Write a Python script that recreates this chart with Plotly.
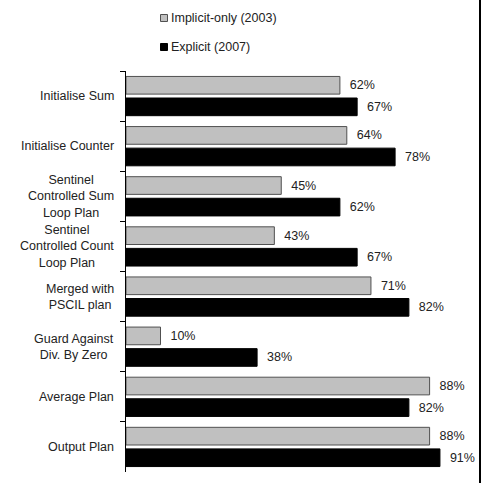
import plotly.graph_objects as go

categories = [
    "Initialise Sum",
    "Initialise Counter",
    "Sentinel<br>Controlled Sum<br>Loop Plan",
    "Sentinel<br>Controlled Count<br>Loop Plan",
    "Merged with<br>PSCIL plan",
    "Guard Against<br>Div. By Zero",
    "Average Plan",
    "Output Plan",
]
implicit_2003 = [62, 64, 45, 43, 71, 10, 88, 88]
explicit_2007 = [67, 78, 62, 67, 82, 38, 82, 91]
series_names = ["Implicit-only (2003)", "Explicit (2007)"]
series_colors = ["#c0c0c0", "#000000"]
series_lines = ["#505050", "#000000"]

W, H = 481, 483
ML, MR, MT, MB = 126, 10, 71, 11
PW, PH = W - ML - MR, H - MT - MB
FONT = "Liberation Sans, Arial, sans-serif"
TXT = "#222222"


def px_x(p):
    return (p - ML) / PW


def px_y(p):
    return (H - MB - p) / PH


fig = go.Figure()
for name, vals, col, lc in zip(series_names, [implicit_2003, explicit_2007], series_colors, series_lines):
    fig.add_trace(go.Bar(
        y=categories, x=vals, orientation="h", name=name,
        marker=dict(color=col, line=dict(color=lc, width=1)),
        text=[f"\u00a0\u00a0{v}%" for v in vals],
        textposition="outside", constraintext="none", cliponaxis=False,
        textfont=dict(family=FONT, size=12.5, color=TXT),
        showlegend=False,
    ))

annotations = []
for c in categories:
    annotations.append(dict(
        x=0, xref="paper", y=c, yref="y", text=c, showarrow=False,
        xanchor="right", yanchor="middle", align="center", xshift=-10,
        font=dict(family=FONT, size=12.5, color=TXT),
    ))

shapes = []
legend_y = [18, 47]
for name, col, lc, ly in zip(series_names, series_colors, series_lines, legend_y):
    shapes.append(dict(
        type="rect", xref="paper", yref="paper",
        x0=px_x(160.5), x1=px_x(167.5), y0=px_y(ly - 3.5), y1=px_y(ly + 3.5),
        fillcolor=col, line=dict(color=lc, width=1),
    ))
    annotations.append(dict(
        x=px_x(169), xref="paper", y=px_y(ly), yref="paper", text=name,
        showarrow=False, xanchor="left", yanchor="middle",
        font=dict(family=FONT, size=12.5, color=TXT),
    ))

# outer frame line on right
shapes.append(dict(
    type="line", xref="paper", yref="paper",
    x0=px_x(480), x1=px_x(480), y0=px_y(0), y1=px_y(H),
    line=dict(color="black", width=2),
))

fig.update_layout(
    width=W, height=H,
    margin=dict(l=ML, r=MR, t=MT, b=MB),
    paper_bgcolor="white", plot_bgcolor="white",
    barmode="group", bargap=0.14, bargroupgap=0.18,
    xaxis=dict(range=[0, 100], showgrid=False, zeroline=False,
               showline=False, showticklabels=False, ticks=""),
    yaxis=dict(autorange="reversed", showgrid=False, zeroline=False,
               showline=True, linecolor="black", linewidth=1,
               ticks="outside", tickson="boundaries", ticklen=5,
               tickcolor="black", showticklabels=False),
    annotations=annotations,
    shapes=shapes,
    font=dict(family=FONT, size=12.5, color=TXT),
)

fig.write_html("out.html")
